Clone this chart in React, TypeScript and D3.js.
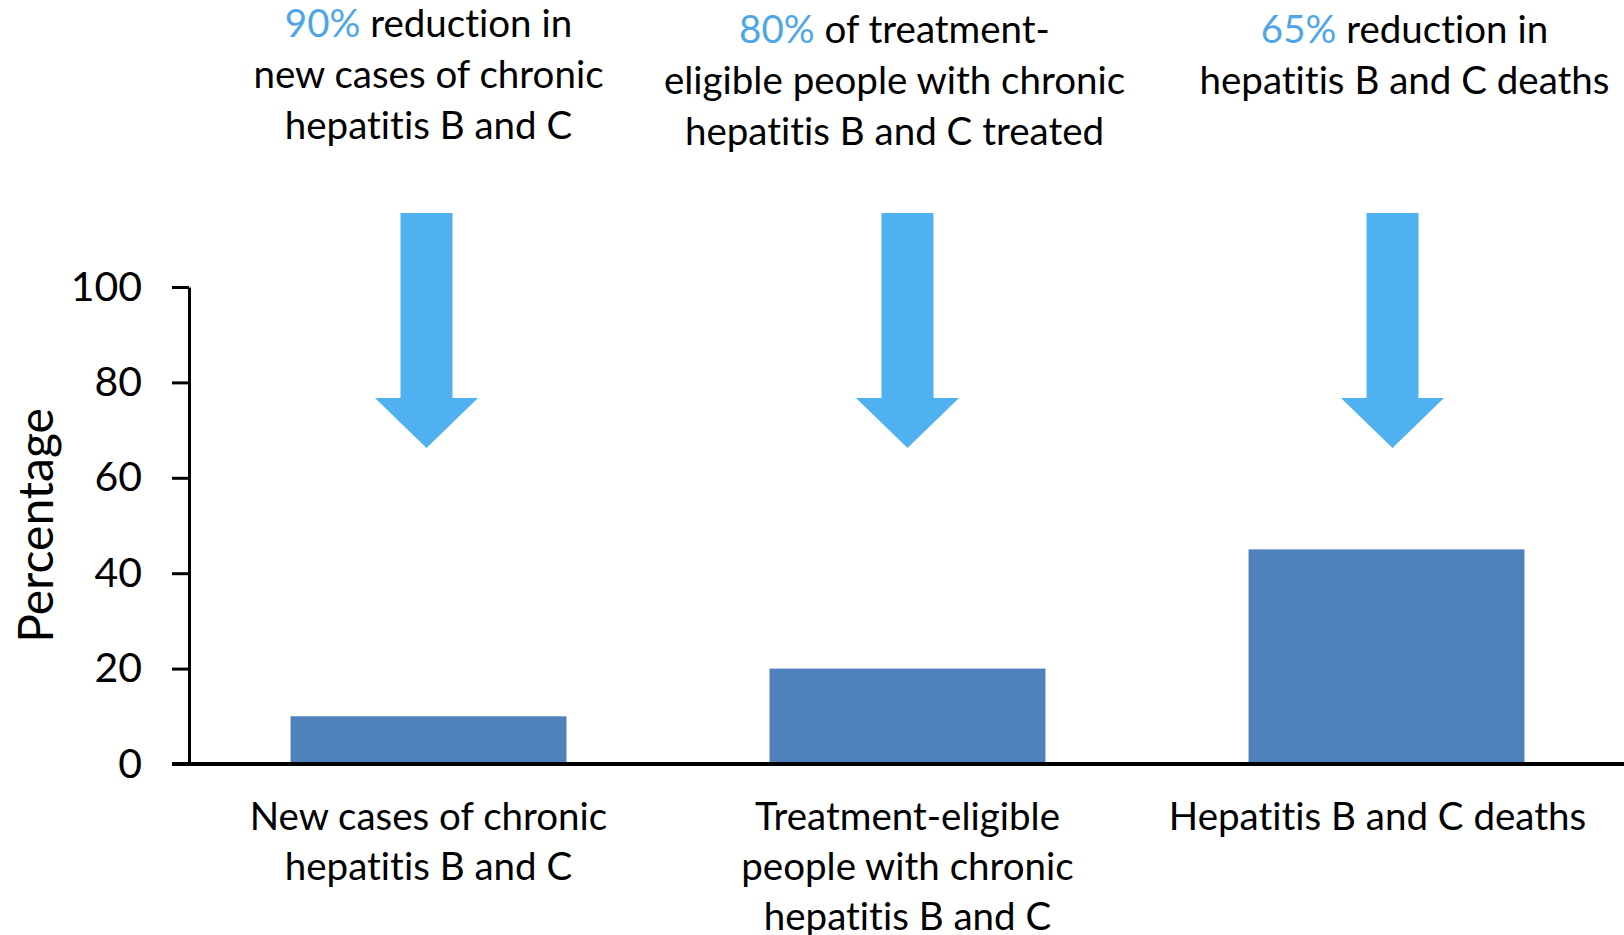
import React, { useEffect, useRef } from 'react'
import * as d3 from 'd3'

// bar chart data
const categories = ['New cases', 'Treatment-eligible', 'Deaths']
const values = [10, 20, 45]
const categoryLines = [
    ['New cases of chronic', 'hepatitis B and C'],
    ['Treatment-eligible', 'people with chronic', 'hepatitis B and C'],
    ['Hepatitis B and C deaths'],
]
// targets printed above the arrows
const targetPct = ['90%', '80%', '65%']
const targetLines = [
    [' reduction in', 'new cases of chronic', 'hepatitis B and C'],
    [' of treatment-', 'eligible people with chronic', 'hepatitis B and C treated'],
    [' reduction in', 'hepatitis B and C deaths'],
]
const yTicks = [0, 20, 40, 60, 80, 100]

const width = 1624
const height = 935
const font = 'Lato, "Open Sans", sans-serif'
const barColor = '#4f81bd'
const arrowColor = '#4fb1f0'
const pctColor = '#4fa6e6'

export default function App() {
    const ref = useRef(null)

    useEffect(() => {
        const svg = d3.select(ref.current)
        svg.selectAll('*').remove()
        svg.style('font-variant-ligatures', 'none')

        const x = d3.scaleBand()
            .domain(categories)
            .range([189, 1626])
            .paddingInner(0.424)
            .paddingOuter(0.212)

        const y = d3.scaleLinear()
            .domain([0, 100])
            .range([764, 287])

        // bars
        svg.append('g')
            .selectAll('rect')
            .data(values)
            .join('rect')
            .attr('x', (d, i) => x(categories[i]))
            .attr('y', d => y(d))
            .attr('width', x.bandwidth())
            .attr('height', d => y(0) - y(d))
            .attr('fill', barColor)

        // y axis
        const yAxis = svg.append('g')
            .attr('transform', `translate(${x.range()[0]},0)`)
            .call(d3.axisLeft(y).tickValues(yTicks).tickSize(17).tickSizeOuter(0).tickPadding(30))
        yAxis.select('.domain').attr('stroke', '#000').attr('stroke-width', 3)
        yAxis.selectAll('.tick line').attr('stroke', '#000').attr('stroke-width', 3)
        yAxis.selectAll('.tick text')
            .attr('font-family', font)
            .attr('font-size', 41)
            .attr('fill', '#000')

        // x axis baseline
        svg.append('line')
            .attr('x1', x.range()[0] - 17)
            .attr('x2', width)
            .attr('y1', y(0))
            .attr('y2', y(0))
            .attr('stroke', '#000')
            .attr('stroke-width', 4)

        // y title
        svg.append('text')
            .attr('transform', `translate(53, ${(y(0) + y(100)) / 2}) rotate(-90)`)
            .attr('text-anchor', 'middle')
            .attr('font-family', font)
            .attr('font-size', 48)
            .text('Percentage')

        // category labels
        const catLabels = svg.append('g')
            .selectAll('text')
            .data(categoryLines)
            .join('text')
            .attr('text-anchor', 'middle')
            .attr('font-family', font)
            .attr('font-size', 38.5)
            .attr('fill', '#000')
        catLabels.selectAll('tspan')
            .data((d, i) => d.map(line => ({ line, i })))
            .join('tspan')
            .attr('x', d => x(categories[d.i]) + x.bandwidth() / 2 - (d.i === 2 ? 9 : 0))
            .attr('y', (d, j) => 830 + j * 50)
            .text(d => d.line)

        // arrows
        const shaftW = 52, headW = 103, top = 213, headY = 398, tip = 448
        const arrowShift = [-2, 0, 6]
        svg.append('g')
            .selectAll('path')
            .data(categories)
            .join('path')
            .attr('d', (c, i) => {
                const cx = x(c) + x.bandwidth() / 2 + arrowShift[i]
                return d3.line()([
                    [cx - shaftW / 2, top], [cx + shaftW / 2, top],
                    [cx + shaftW / 2, headY], [cx + headW / 2, headY],
                    [cx, tip],
                    [cx - headW / 2, headY], [cx - shaftW / 2, headY],
                ]) + 'Z'
            })
            .attr('fill', arrowColor)

        // target annotations
        const shift = [0, -13, 18]
        const yStart = [37, 43, 43]
        const notes = svg.append('g')
            .selectAll('text')
            .data(targetLines)
            .join('text')
            .attr('text-anchor', 'middle')
            .attr('font-family', font)
            .attr('font-size', 38.5)
            .attr('fill', '#000')
        notes.each(function (lines, i) {
            const t = d3.select(this)
            const cx = x(categories[i]) + x.bandwidth() / 2 + shift[i]
            lines.forEach((line, j) => {
                if (j === 0) {
                    const first = t.append('tspan').attr('x', cx).attr('y', yStart[i])
                    first.append('tspan').attr('fill', pctColor).text(targetPct[i])
                    first.append('tspan').text(line)
                } else {
                    t.append('tspan').attr('x', cx).attr('y', yStart[i] + j * 51).text(line)
                }
            })
        })
    }, [])

    return (
        <div style={{ position: 'absolute', left: 0, top: 0 }}>
            <svg ref={ref} width={width} height={height} style={{ display: 'block', background: '#fff' }}></svg>
        </div>
    )
}
